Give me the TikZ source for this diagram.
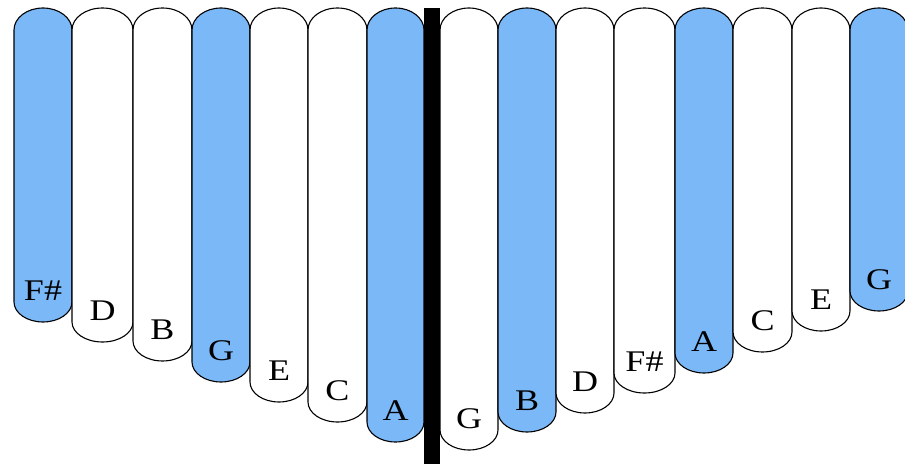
\documentclass[tikz,border=0pt]{standalone}
\usepackage{fontspec}
\newfontfamily\labfont[FakeStretch=1.2]{Liberation Serif}
\definecolor{tineblue}{RGB}{122,184,248}
\begin{document}
\begin{tikzpicture}[x=1pt,y=1pt,
  tine/.style={draw=black,line width=1.1pt,line join=round},
  bl/.style={tine,fill=tineblue},
  wh/.style={tine,fill=white},
  lab/.style={font=\labfont\fontsize{30}{30}\selectfont,anchor=base,inner sep=0pt}]
\useasboundingbox (0,0) rectangle (905,464);
\clip (0,0) rectangle (905,464);
\fill[white] (0,0) rectangle (905,464);
\foreach \L/\R/\B/\t/\s [count=\i] in {
  14/72/322/{F\#}/bl, 72/133/342/D/wh, 133/192/361/B/wh, 192/250/382/G/bl,
  250/308/402/E/wh, 308/367/422/C/wh, 367/424/442/A/bl,
  440/498/450/G/wh, 498/556/432/B/bl, 556/614/413/D/wh, 614/675/393/{F\#}/wh,
  675/733/373/A/bl, 733/792/352/C/wh, 792/850/331/E/wh, 850/908/311/G/bl}{
  \pgfmathsetmacro\w{(\R-\L)/2}
  \pgfmathsetmacro\cx{(\L+\R)/2}
  \pgfmathsetmacro\yb{464-\B+20}
  \pgfmathsetmacro\yl{464-\B+22}
  \draw[\s] (\L,434) arc[start angle=180,end angle=0,x radius=\w,y radius=22]
     -- (\R,\yb) arc[start angle=0,end angle=-180,x radius=\w,y radius=20] -- cycle;
  \node[lab] (t\i) at (\cx,\yl) {\t};
}
\fill[black] (424,0) rectangle (440,456);
\end{tikzpicture}
\end{document}
